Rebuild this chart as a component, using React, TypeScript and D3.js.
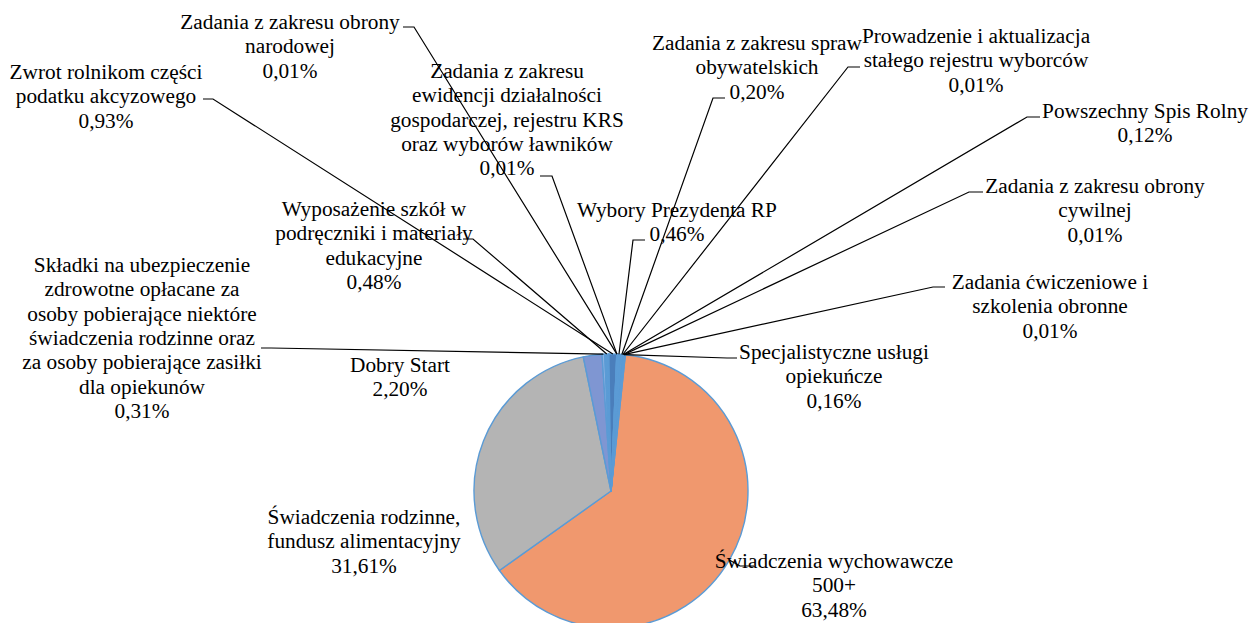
import React from "react";
import * as d3 from "d3";

// ---- data ----
const categories = [
  "Świadczenia wychowawcze 500+",
  "Świadczenia rodzinne, fundusz alimentacyjny",
  "Dobry Start",
  "Składki na ubezpieczenie zdrowotne opłacane za osoby pobierające niektóre świadczenia rodzinne oraz za osoby pobierające zasiłki dla opiekunów",
  "Wyposażenie szkół w podręczniki i materiały edukacyjne",
  "Zwrot rolnikom części podatku akcyzowego",
  "Zadania z zakresu obrony narodowej",
  "Zadania z zakresu ewidencji działalności gospodarczej, rejestru KRS oraz wyborów ławników",
  "Wybory Prezydenta RP",
  "Zadania z zakresu spraw obywatelskich",
  "Prowadzenie i aktualizacja stałego rejestru wyborców",
  "Powszechny Spis Rolny",
  "Zadania z zakresu obrony cywilnej",
  "Zadania ćwiczeniowe i szkolenia obronne",
  "Specjalistyczne usługi opiekuńcze",
];

const values = [63.48, 31.61, 2.2, 0.31, 0.48, 0.93, 0.01, 0.01, 0.46, 0.2, 0.01, 0.12, 0.01, 0.01, 0.16];

// wrapped label text (as in the original)
const labelLines = [
  ["Świadczenia wychowawcze", "500+"],
  ["Świadczenia rodzinne,", "fundusz alimentacyjny"],
  ["Dobry Start"],
  ["Składki na ubezpieczenie", "zdrowotne opłacane za", "osoby pobierające niektóre", "świadczenia rodzinne oraz", "za osoby pobierające zasiłki", "dla opiekunów"],
  ["Wyposażenie szkół w", "podręczniki i materiały", "edukacyjne"],
  ["Zwrot rolnikom części", "podatku akcyzowego"],
  ["Zadania z zakresu obrony", "narodowej"],
  ["Zadania z zakresu", "ewidencji działalności", "gospodarczej, rejestru KRS", "oraz wyborów ławników"],
  ["Wybory Prezydenta RP"],
  ["Zadania z zakresu spraw", "obywatelskich"],
  ["Prowadzenie i aktualizacja", "stałego rejestru wyborców"],
  ["Powszechny Spis Rolny"],
  ["Zadania z zakresu obrony", "cywilnej"],
  ["Zadania ćwiczeniowe i", "szkolenia obronne"],
  ["Specjalistyczne usługi", "opiekuńcze"],
];

// ---- styles / layout ----
const sliceColors = [
  "#F0986E", "#B4B4B4", "#7F96D2", "#8FB4E3", "#5B9BD5", "#4A7EBB", "#FFFFFF",
  "#A9C8EA", "#5B9BD5", "#6FA8DC", "#FFFFFF", "#4A7EBB", "#FFFFFF", "#FFFFFF", "#5B9BD5",
];

type Layout = { cx: number; y: number; leader?: [number, number][] };
const labelLayout: Layout[] = [
  { cx: 834, y: 568, leader: [[754, 566], [740, 566]] },
  { cx: 364, y: 524 },
  { cx: 400, y: 372 },
  { cx: 142, y: 272, leader: [[261, 348], [271, 348]] },
  { cx: 374, y: 216, leader: [[463, 239], [473, 239]] },
  { cx: 106, y: 79, leader: [[203, 99], [213, 99]] },
  { cx: 290, y: 29, leader: [[403, 27], [414, 27]] },
  { cx: 507, y: 78, leader: [[540, 176], [552, 176]] },
  { cx: 677, y: 217, leader: [[645, 240], [633, 240]] },
  { cx: 757, y: 50, leader: [[725, 98], [713, 98]] },
  { cx: 976, y: 43, leader: [[860, 67], [848, 67]] },
  { cx: 1145, y: 118, leader: [[1040, 117], [1027, 117]] },
  { cx: 1095, y: 193, leader: [[983, 192], [969, 192]] },
  { cx: 1050, y: 289, leader: [[945, 287], [933, 287]] },
  { cx: 834, y: 359, leader: [[737, 358], [727, 358]] },
];

const W = 1249;
const H = 623;
const CX = 611;
const CY = 491;
const R = 137;
const START = (6 * Math.PI) / 180;
const LH = 24.3;
const FONT = '"Liberation Serif", "Times New Roman", Tinos, "DejaVu Serif", "Noto Serif", Times, serif';

const locale = d3.formatLocale({ decimal: ",", thousands: " ", grouping: [3], currency: ["", ""] });
const fmt = locale.format(".2f");

export default function App() {
  React.useEffect(() => {
    document.body.style.margin = "0";
  }, []);

  const pie = d3
    .pie<number>()
    .sort(null)
    .value((d) => d)
    .startAngle(START)
    .endAngle(START + 2 * Math.PI);
  const arcs = pie(values);
  const arc = d3.arc<d3.PieArcDatum<number>>().innerRadius(0).outerRadius(R);
  const edge = d3.arc<d3.PieArcDatum<number>>().innerRadius(R).outerRadius(R);

  return (
    <svg width={W} height={H} style={{ display: "block", background: "#fff" }}>
      <g transform={`translate(${CX},${CY})`}>
        {arcs.map((a, i) => (
          <path
            key={i}
            d={arc(a) || ""}
            fill={sliceColors[i]}
            stroke="#5B9BD5"
            strokeWidth={1.4}
            strokeLinejoin="round"
          />
        ))}
      </g>
      {arcs.map((a, i) => {
        const L = labelLayout[i];
        if (!L.leader) return null;
        const [px, py] = edge.centroid(a);
        const pts = [...L.leader, [px + CX, py + CY]];
        return (
          <path
            key={"l" + i}
            d={d3.line()(pts as [number, number][]) || ""}
            fill="none"
            stroke="#000"
            strokeWidth={1.2}
          />
        );
      })}
      {arcs.map((a, i) => {
        const L = labelLayout[i];
        const lines = [...labelLines[i], fmt(values[i]) + "%"];
        return (
          <text
            key={"t" + i}
            x={L.cx}
            y={L.y}
            textAnchor="middle"
            style={{ fontFamily: FONT, fontSize: "21.3px" }}
            fill="#000"
          >
            {lines.map((s, j) => (
              <tspan key={j} x={L.cx} y={L.y + j * LH}>
                {s}
              </tspan>
            ))}
          </text>
        );
      })}
    </svg>
  );
}
